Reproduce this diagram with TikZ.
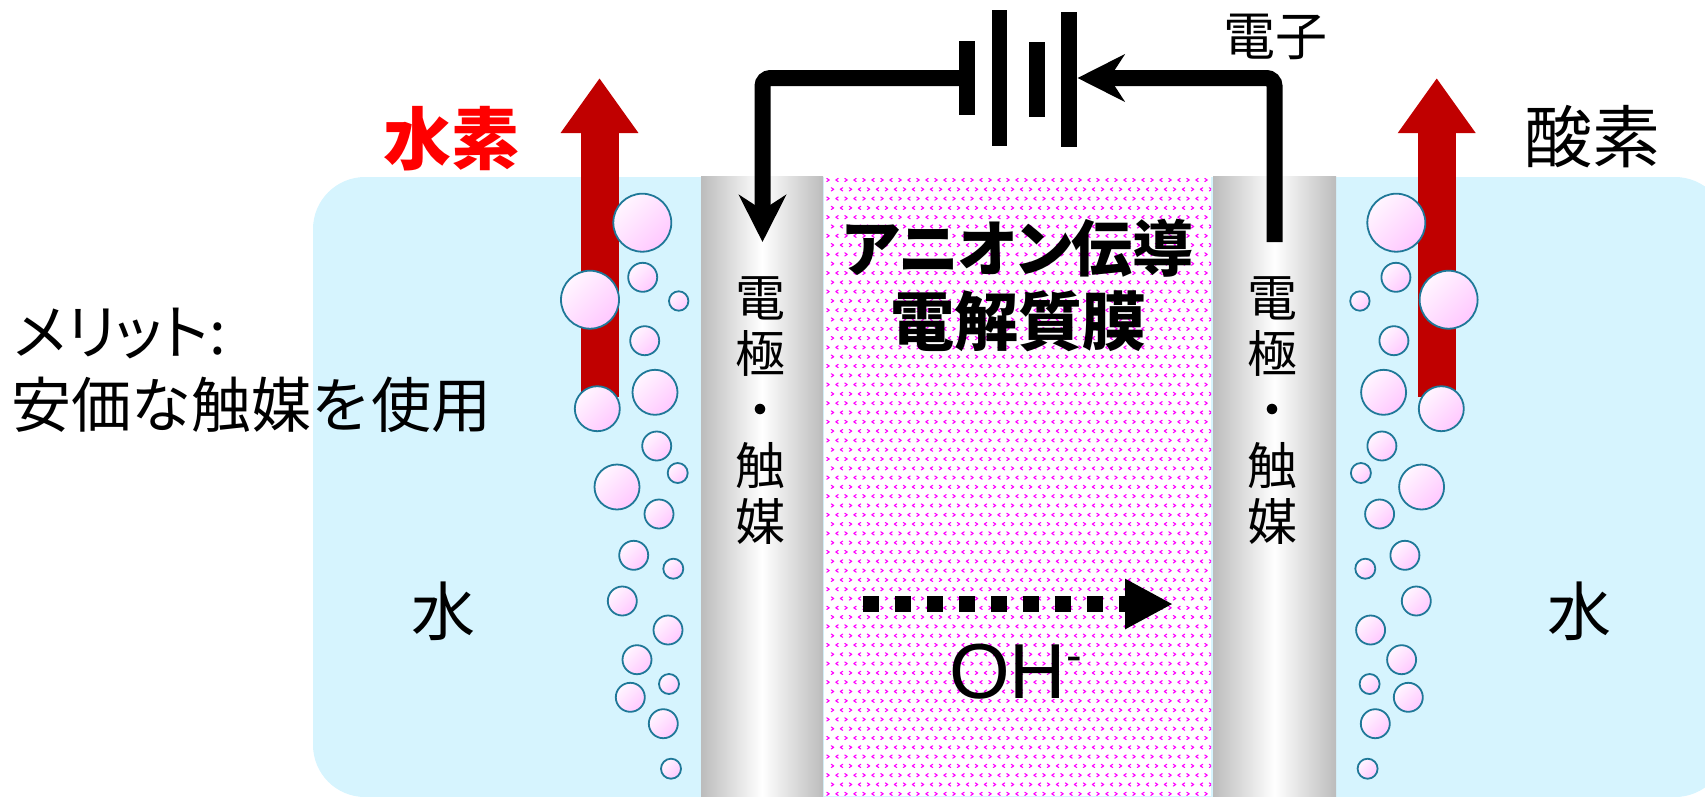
\documentclass[tikz,border=0pt]{standalone}
\usepackage{fontspec}
\newfontfamily\jp[RawFeature=+palt]{Noto Sans CJK JP}
\newfontfamily\jpfull{Noto Sans CJK JP}
\newfontfamily\arialfont{Liberation Sans}
\usetikzlibrary{arrows.meta}

\definecolor{water}{RGB}{214,244,254}
\definecolor{egray}{RGB}{188,188,188}
\definecolor{dotpink}{RGB}{255,0,255}
\definecolor{bubbleline}{RGB}{31,120,152}
\definecolor{bubblelight}{RGB}{255,246,255}
\definecolor{bubblepink}{RGB}{255,200,255}
\definecolor{gasred}{RGB}{192,0,0}
\definecolor{labelred}{RGB}{255,0,0}

\begin{document}
\begin{tikzpicture}[x=1pt,y=-1pt,
  every node/.style={inner sep=0pt,outer sep=0pt},
  electrode/.style={left color=egray,right color=egray,middle color=white},
  chev/.style={draw=dotpink,line width=1.1pt,line cap=round,line join=round},
  bubble/.style={draw=bubbleline,line width=1.8pt,top color=bubblelight,bottom color=bubblepink,shading angle=45},
  gasarrow/.style={draw=gasred,line width=38pt,-{Triangle[length=55pt,width=74pt]}},
  wire/.style={draw=black,line width=16pt,rounded corners=8pt},
  wiretip/.style={-{Stealth[length=47pt,width=47pt,inset=15pt]}},
  plate/.style={fill=black},
  ionflow/.style={draw=black,line width=16pt,dash pattern=on 16pt off 16pt,-{Triangle[length=48pt,width=47pt]}},
  jptext/.style={font=\jp\fontsize{#1}{#1}\selectfont},
  jpbold/.style={font=\jp\bfseries\fontsize{#1}{#1}\selectfont}]
\useasboundingbox (0,0) rectangle (1705,796);

% water tank
\begin{scope}
  \clip (0,0) rectangle (1705,796);
  \fill[water,rounded corners=52pt] (313,177) rectangle (1727,797);
\end{scope}

% electrodes
\fill[electrode] (701,176) rectangle (823,796);
\fill[electrode] (1213,176) rectangle (1336,796);

% anion conducting membrane with dot pattern
\fill[white] (824,176) rectangle (1211,796);
\begin{scope}
  \clip (824,176) rectangle (1211,796);
  \foreach \j in {0,...,66}{
    \pgfmathsetmacro\yy{180+\j*9.3}
    \pgfmathsetmacro\off{mod(\j,2)*4.5}
    \draw[chev] \foreach \i in {0,...,21}{ ({826.8+\off+18*\i},{\yy-1.6}) -- ++(2.4,1.6) -- ++(-2.4,1.6) };
    \draw[chev] \foreach \i in {0,...,21}{ ({838.2+\off+18*\i},{\yy-1.6}) -- ++(-2.4,1.6) -- ++(2.4,1.6) };
  }
\end{scope}

% rising gas arrows
\coordinate (h2base) at (599.5,397);
\coordinate (h2top) at (599.5,78);
\coordinate (o2base) at (1436.7,397);
\coordinate (o2top) at (1436.7,78);
\draw[gasarrow] (h2base) -- (h2top);
\draw[gasarrow] (o2base) -- (o2top);

% gas bubbles (right column mirrors the left one)
\foreach \bx/\by/\br in {642.3/222.7/29, 642.7/277.3/14.5, 678.7/301/9.7, 590/299.7/29,
  644.7/340.7/14.5, 655/392.3/22.5, 597.3/408.7/22.5, 656.7/446/14.5, 677.7/473/10,
  617/487/22.5, 659/514/14.5, 633.7/555.3/14.5, 673.3/568.7/10, 622.3/601/14.5,
  668/630/14.5, 637/659.7/14.5, 669/684/10, 630.3/697.3/14.5, 663.3/723.7/14.5, 671/768.7/10}{
  \shade[bubble] (\bx,\by) circle[radius=\br];
  \shade[bubble] ({2038.6-\bx},\by) circle[radius=\br];
}

% battery
\fill[plate] (959,41) rectangle (975,115);
\fill[plate] (991.5,10) rectangle (1007,146);
\fill[plate] (1028.5,42) rectangle (1044.5,117);
\fill[plate] (1060.7,12) rectangle (1076.7,147);
\coordinate (batL) at (959,78);
\coordinate (batR) at (1077.5,78);
\coordinate (elecL) at (762.5,242);
\coordinate (elecR) at (1274.5,242);

% external circuit
\draw[wire,wiretip] (batL) -| (elecL);
\draw[wire,wiretip] (elecR) |- (batR);
\node[jptext=52] (electron) at (1275,37) {電子};

% hydroxide transport
\coordinate (ohstart) at (863,604);
\coordinate (ohend) at (1173,604);
\draw[ionflow] (ohstart) -- (ohend);
\node[anchor=base west,font=\arialfont\fontsize{78}{78}\selectfont] (oh) at (949,698)
  {OH\raisebox{27pt}{\fontsize{47}{47}\selectfont -}};

% labels
\node[jpbold=68,text=labelred] (hydrogen) at (451,139) {水素};
\node[jptext=68] (oxygen) at (1592,137) {酸素};
\node[jptext=64] (waterL) at (443,611) {水};
\node[jptext=64] (waterR) at (1579,611) {水};
\node[jpbold=61] (mem1) at (1018,248) {アニオン伝導};
\node[jpbold=64] (mem2) at (1018,321) {電解質膜};
\node[align=center,font=\jp\fontsize{50}{56}\selectfont] (catL) at (760,411) {電\\極\\・\\触\\媒};
\node[align=center,font=\jp\fontsize{50}{56}\selectfont] (catR) at (1272,411) {電\\極\\・\\触\\媒};
\node[jptext=60,anchor=west] (merit1) at (14,334) {メリット:};
\node[anchor=west,font=\jpfull\fontsize{60}{60}\selectfont] (merit2) at (12,405) {安価な触媒を使用};
\end{tikzpicture}
\end{document}
